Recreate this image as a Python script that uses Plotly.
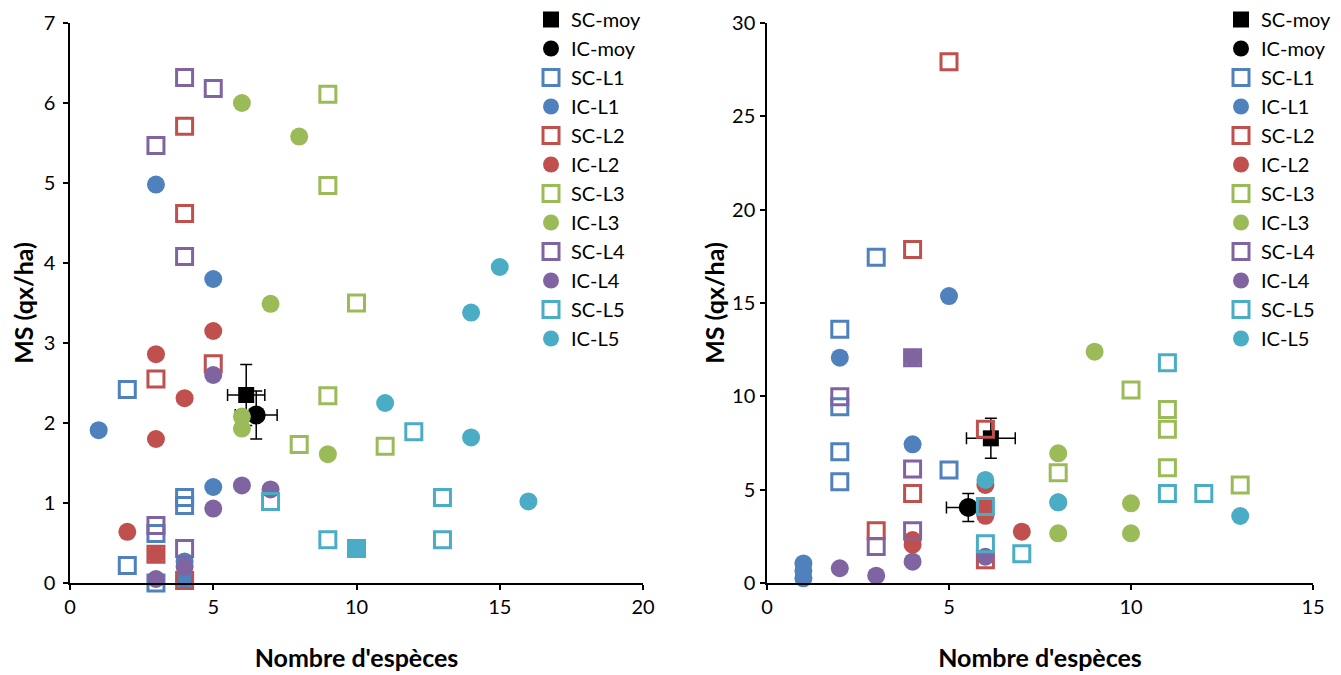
import plotly.graph_objects as go

# ---------------- data ----------------
series_names = ["SC-moy", "IC-moy", "SC-L1", "IC-L1", "SC-L2", "IC-L2",
                "SC-L3", "IC-L3", "SC-L4", "IC-L4", "SC-L5", "IC-L5"]

# Left panel
left_moy_sc_x = [6.15]; left_moy_sc_y = [2.35]; left_moy_sc_xerr = [0.65]; left_moy_sc_yerr = [0.38]
left_moy_ic_x = [6.5];  left_moy_ic_y = [2.1];  left_moy_ic_xerr = [0.73]; left_moy_ic_yerr = [0.3]

left_sc_l1_x = [2, 2, 3, 3, 4, 4]
left_sc_l1_y = [2.42, 0.22, 0.62, 0.0, 1.07, 0.97]
left_ic_l1_x = [1, 3, 5, 5, 4, 4]
left_ic_l1_y = [1.91, 4.98, 3.80, 1.20, 0.27, 0.04]
left_sc_l2_x = [4, 4, 5, 3, 3, 4]
left_sc_l2_y = [5.71, 4.62, 2.74, 2.55, 0.36, 0.03]
left_ic_l2_x = [5, 3, 4, 3, 2, 3]
left_ic_l2_y = [3.15, 2.86, 2.31, 1.80, 0.64, 0.36]
left_sc_l3_x = [9, 9, 10, 9, 8, 11]
left_sc_l3_y = [6.11, 4.97, 3.50, 2.34, 1.73, 1.71]
left_ic_l3_x = [6, 8, 7, 6, 6, 9]
left_ic_l3_y = [6.00, 5.58, 3.49, 2.08, 1.93, 1.61]
left_sc_l4_x = [4, 5, 3, 4, 3, 4]
left_sc_l4_y = [6.32, 6.18, 5.47, 4.08, 0.72, 0.43]
left_ic_l4_x = [5, 6, 7, 5, 4, 3]
left_ic_l4_y = [2.60, 1.22, 1.17, 0.93, 0.20, 0.05]
left_sc_l5_x = [12, 7, 13, 9, 13, 10]
left_sc_l5_y = [1.89, 1.02, 1.07, 0.54, 0.54, 0.43]
left_ic_l5_x = [15, 14, 11, 14, 16, 10]
left_ic_l5_y = [3.95, 3.38, 2.25, 1.82, 1.02, 0.43]

# Right panel
right_moy_sc_x = [6.15]; right_moy_sc_y = [7.75]; right_moy_sc_xerr = [0.67]; right_moy_sc_yerr = [1.07]
right_moy_ic_x = [5.53]; right_moy_ic_y = [4.05]; right_moy_ic_xerr = [0.6]; right_moy_ic_yerr = [0.75]

right_sc_l1_x = [3, 2, 2, 2, 2, 5]
right_sc_l1_y = [17.45, 13.59, 9.44, 7.03, 5.43, 6.05]
right_ic_l1_x = [5, 2, 4, 1, 1, 1]
right_ic_l1_y = [15.37, 12.07, 7.43, 1.05, 0.65, 0.25]
right_sc_l2_x = [5, 4, 6, 4, 3, 6]
right_sc_l2_y = [27.93, 17.87, 8.23, 4.80, 2.80, 1.25]
right_ic_l2_x = [6, 6, 6, 7, 4, 4]
right_ic_l2_y = [5.25, 4.1, 3.6, 2.75, 2.3, 2.05]
right_sc_l3_x = [10, 11, 11, 11, 8, 13]
right_sc_l3_y = [10.34, 9.3, 8.23, 6.18, 5.91, 5.25]
right_ic_l3_x = [9, 8, 8, 10, 8, 10]
right_ic_l3_y = [12.39, 6.95, 4.32, 4.27, 2.66, 2.66]
right_sc_l4_x = [4, 2, 4, 4, 3]
right_sc_l4_y = [12.07, 9.98, 6.11, 2.80, 1.95]
right_ic_l4_x = [4, 6, 4, 2, 3]
right_ic_l4_y = [12.07, 1.41, 1.14, 0.79, 0.39]
right_sc_l5_x = [11, 11, 12, 6, 6, 7]
right_sc_l5_y = [11.8, 4.80, 4.80, 4.1, 2.1, 1.57]
right_ic_l5_x = [6, 8, 13]
right_ic_l5_y = [5.52, 4.32, 3.59]

colors = {"L1": "#4F81BD", "L2": "#C0504D", "L3": "#9BBB59", "L4": "#8064A2", "L5": "#4BACC6"}

FONT = "Lato"

fig = go.Figure()


def add_panel(xa, ya, legend, moy, groups):
    (scx, scy, scxe, scye), (icx, icy, icxe, icye) = moy
    eb = dict(type="data", symmetric=True, color="black", thickness=1.5, width=6)
    fig.add_trace(go.Scatter(
        x=scx, y=scy, mode="markers", name="SC-moy", xaxis=xa, yaxis=ya, legend=legend,
        marker=dict(symbol="square", size=16, color="black"),
        error_x=dict(array=scxe, **eb), error_y=dict(array=scye, **eb), cliponaxis=False))
    fig.add_trace(go.Scatter(
        x=icx, y=icy, mode="markers", name="IC-moy", xaxis=xa, yaxis=ya, legend=legend,
        marker=dict(symbol="circle", size=19, color="black"),
        error_x=dict(array=icxe, **eb), error_y=dict(array=icye, **eb), cliponaxis=False))
    for key, (sx, sy, cx, cy) in groups:
        c = colors[key]
        fig.add_trace(go.Scatter(
            x=sx, y=sy, mode="markers", name="SC-" + key, xaxis=xa, yaxis=ya, legend=legend,
            marker=dict(symbol="square-open", size=16, color=c, line=dict(color=c, width=3)),
            cliponaxis=False))
        fig.add_trace(go.Scatter(
            x=cx, y=cy, mode="markers", name="IC-" + key, xaxis=xa, yaxis=ya, legend=legend,
            marker=dict(symbol="circle", size=18, color=c, line=dict(width=0)),
            cliponaxis=False))


add_panel("x", "y", "legend",
          ((left_moy_sc_x, left_moy_sc_y, left_moy_sc_xerr, left_moy_sc_yerr),
           (left_moy_ic_x, left_moy_ic_y, left_moy_ic_xerr, left_moy_ic_yerr)),
          [("L1", (left_sc_l1_x, left_sc_l1_y, left_ic_l1_x, left_ic_l1_y)),
           ("L2", (left_sc_l2_x, left_sc_l2_y, left_ic_l2_x, left_ic_l2_y)),
           ("L3", (left_sc_l3_x, left_sc_l3_y, left_ic_l3_x, left_ic_l3_y)),
           ("L4", (left_sc_l4_x, left_sc_l4_y, left_ic_l4_x, left_ic_l4_y)),
           ("L5", (left_sc_l5_x, left_sc_l5_y, left_ic_l5_x, left_ic_l5_y))])

add_panel("x2", "y2", "legend2",
          ((right_moy_sc_x, right_moy_sc_y, right_moy_sc_xerr, right_moy_sc_yerr),
           (right_moy_ic_x, right_moy_ic_y, right_moy_ic_xerr, right_moy_ic_yerr)),
          [("L1", (right_sc_l1_x, right_sc_l1_y, right_ic_l1_x, right_ic_l1_y)),
           ("L2", (right_sc_l2_x, right_sc_l2_y, right_ic_l2_x, right_ic_l2_y)),
           ("L3", (right_sc_l3_x, right_sc_l3_y, right_ic_l3_x, right_ic_l3_y)),
           ("L4", (right_sc_l4_x, right_sc_l4_y, right_ic_l4_x, right_ic_l4_y)),
           ("L5", (right_sc_l5_x, right_sc_l5_y, right_ic_l5_x, right_ic_l5_y))])

axis_common = dict(showline=True, linecolor="black", linewidth=1.5, ticks="outside",
                   ticklen=5, tickwidth=1.5, tickcolor="black", showgrid=False, zeroline=False,
                   tickfont=dict(family=FONT, size=20, color="black"), fixedrange=True,
                   automargin=False)
title_font = dict(family=FONT, size=25, color="black", weight="bold")

# The page body has an 8 px offset; figure coordinates = reference pixels - 8
OFF = 8
W, H = 1341 - OFF, 675 - OFF


def px_x(p):
    return (p - OFF) / W


def px_y(p):
    return 1 - (p - OFF) / H


LEG_H = 357  # approx legend height in px
LEG_FIRST = 21  # reference pixel of the first legend row centre

fig.update_layout(
    width=W, height=H,
    margin=dict(l=0, r=0, t=0, b=0, autoexpand=False),
    paper_bgcolor="white", plot_bgcolor="white",
    font=dict(family=FONT, size=20, color="black"),
    xaxis=dict(domain=[px_x(70), px_x(643)], range=[0, 20], dtick=5, anchor="y",
               title=dict(text="Nombre d'espèces", font=title_font, standoff=33), **axis_common),
    yaxis=dict(domain=[px_y(583), px_y(23)], range=[0, 7], dtick=1, anchor="x", ticklabelstandoff=4,
               title=dict(text="MS (qx/ha)", font=title_font, standoff=16), **axis_common),
    xaxis2=dict(domain=[px_x(767), px_x(1313)], range=[0, 15], dtick=5, anchor="y2",
                title=dict(text="Nombre d'espèces", font=title_font, standoff=33), **axis_common),
    yaxis2=dict(domain=[px_y(583), px_y(23)], range=[0, 30], dtick=5, anchor="x2", ticklabelstandoff=1,
                title=dict(text="MS (qx/ha)", font=title_font, standoff=0), **axis_common),
    legend=dict(x=px_x(554 - 23), y=px_y(LEG_FIRST - 20 + LEG_H), xanchor="left", yanchor="bottom",
                bgcolor="rgba(0,0,0,0)", font=dict(family=FONT, size=20, color="black"),
                tracegroupgap=0),
    legend2=dict(x=px_x(1244 - 23), y=px_y(LEG_FIRST - 20 + LEG_H), xanchor="left", yanchor="bottom",
                 bgcolor="rgba(0,0,0,0)", font=dict(family=FONT, size=20, color="black"),
                 tracegroupgap=0),
    showlegend=True,
)

fig.write_html("out.html")
